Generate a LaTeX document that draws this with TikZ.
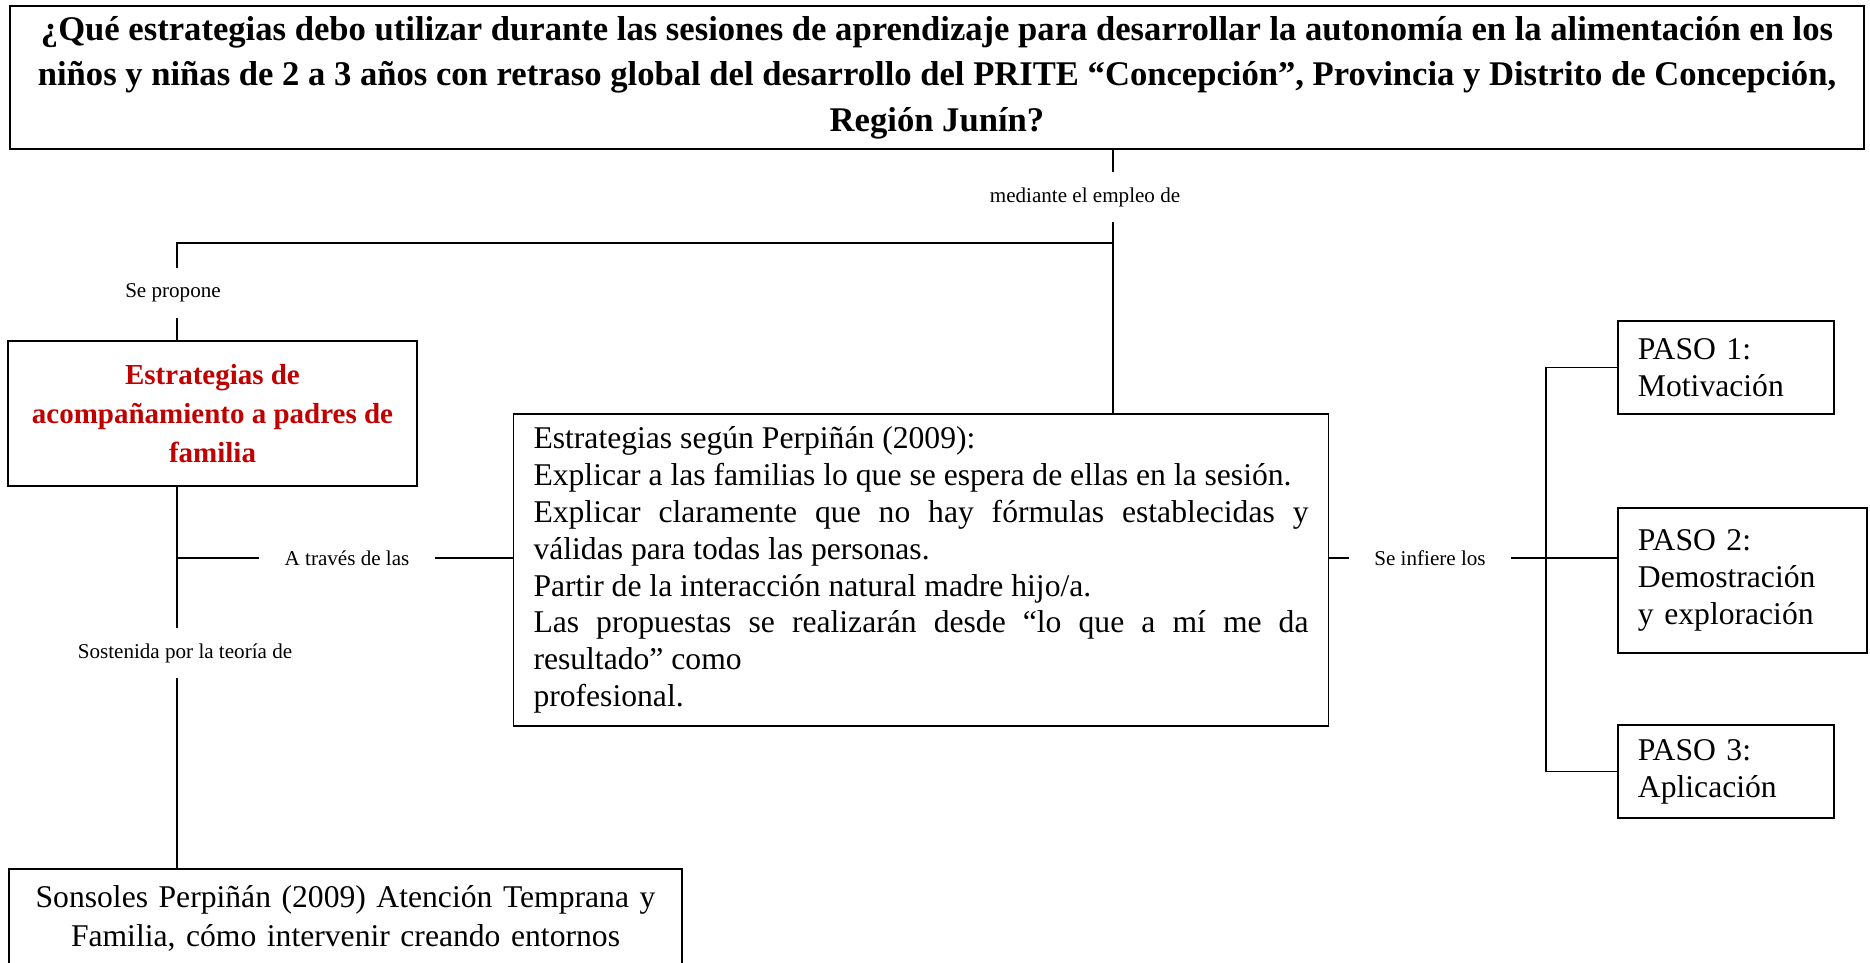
\documentclass[tikz,border=0pt]{standalone}
\usepackage{fontspec}
\setmainfont{Liberation Serif}
\definecolor{rojo}{RGB}{192,0,0}
\hyphenpenalty=10000
\exhyphenpenalty=10000
\sloppy

\tikzset{
  caja/.style={draw, line width=1.1pt, inner xsep=0.4cm},
  con/.style={line width=1.1pt},
  etiq/.style={font=\fontsize{12}{14}\selectfont, inner xsep=0.5cm, minimum height=1cm},
  paso/.style={caja, anchor=west, align=left, font=\fontsize{18}{21}\selectfont, minimum height=1.86cm}
}

\begin{document}
\begin{tikzpicture}
\useasboundingbox (0,0) rectangle (37.4,19.26);
\clip (0,0) rectangle (37.4,19.26);

\node[caja, line width=1.3pt, minimum width=37.08cm, minimum height=2.86cm, inner xsep=0.1cm, align=center, font=\bfseries\fontsize{19.7}{26}\selectfont] (preg) at (18.74,17.71) {¿Qué estrategias debo utilizar durante las sesiones de aprendizaje para desarrollar la autonomía en la alimentación en los\\niños y niñas de 2 a 3 años con retraso global del desarrollo del PRITE “Concepción”, Provincia y Distrito de Concepción,\\Región Junín?};

\node[etiq] (med) at (21.7,15.32) {mediante el empleo de};
\coordinate (j) at (22.26,14.4);
\coordinate (k) at (3.54,14.4);
\coordinate (b) at (30.92,0);

\node[etiq] (sepro) at (3.46,13.4) {Se propone};
\node[caja, minimum width=8.18cm, minimum height=2.9cm, align=center, text=rojo, font=\bfseries\fontsize{16.5}{22}\selectfont] (prop) at (4.25,10.99) {Estrategias de\\acompañamiento a padres de\\familia};

\node[caja, text width=15.5cm, minimum height=6.24cm, align=justify, font=\fontsize{18}{21}\selectfont] (strat) at (18.42,7.86) {Estrategias según Perpiñán (2009):\\
Explicar a las familias lo que se espera de ellas en la sesión.\\
Explicar claramente que no hay fórmulas establecidas y\linebreak válidas para todas las personas.\\
Partir de la interacción natural madre hijo/a.\\
Las propuestas se realizarán desde “lo que a mí me da\linebreak resultado” como\\
profesional.};

\node[etiq] (atr) at (6.94,8.1) {A través de las};
\node[etiq] (inf) at (28.6,8.1) {Se infiere los};
\node[etiq] (sost) at (3.7,6.2) {Sostenida por la teoría de};

\node[caja, anchor=north, text width=12.66cm, align=center, inner ysep=0.34cm, text depth=2cm, font=\fontsize{18}{22}\selectfont] (son) at (6.91,1.9) {Sonsoles Perpiñán (2009) Atención Temprana y\\Familia, cómo intervenir creando entornos};

\node[paso, text width=3.52cm] (paso1) at (32.34,11.91) {PASO 1:\\Motivación};
\node[paso, text width=4.18cm, minimum height=2.9cm] (paso2) at (32.34,7.65) {PASO 2:\\Demostración\\y exploración};
\node[paso, text width=3.52cm] (paso3) at (32.34,3.83) {PASO 3:\\Aplicación};

% lineas
\draw[con] (preg.south -| j) -- (med.north -| j);
\draw[con] (med.south -| j) -- (strat.north -| j);
\draw[con] (j) -- (k) -- (sepro.north -| k);
\draw[con] (sepro.south -| k) -- (prop.north -| k);
\draw[con] (prop.south -| k) -- (sost.north -| k);
\draw[con] (sost.south -| k) -- (son.north -| k);
\draw[con] (atr.west -| k) -- (atr.west);
\draw[con] (atr.east) -- (atr.east -| strat.west);
\draw[con] (strat.east |- inf.west) -- (inf.west);
\draw[con] (inf.east) -- (inf.east -| paso2.west);
\draw[con] (paso1.west) -- (paso1.west -| b) -- (paso3.west -| b) -- (paso3.west);
\end{tikzpicture}
\end{document}
